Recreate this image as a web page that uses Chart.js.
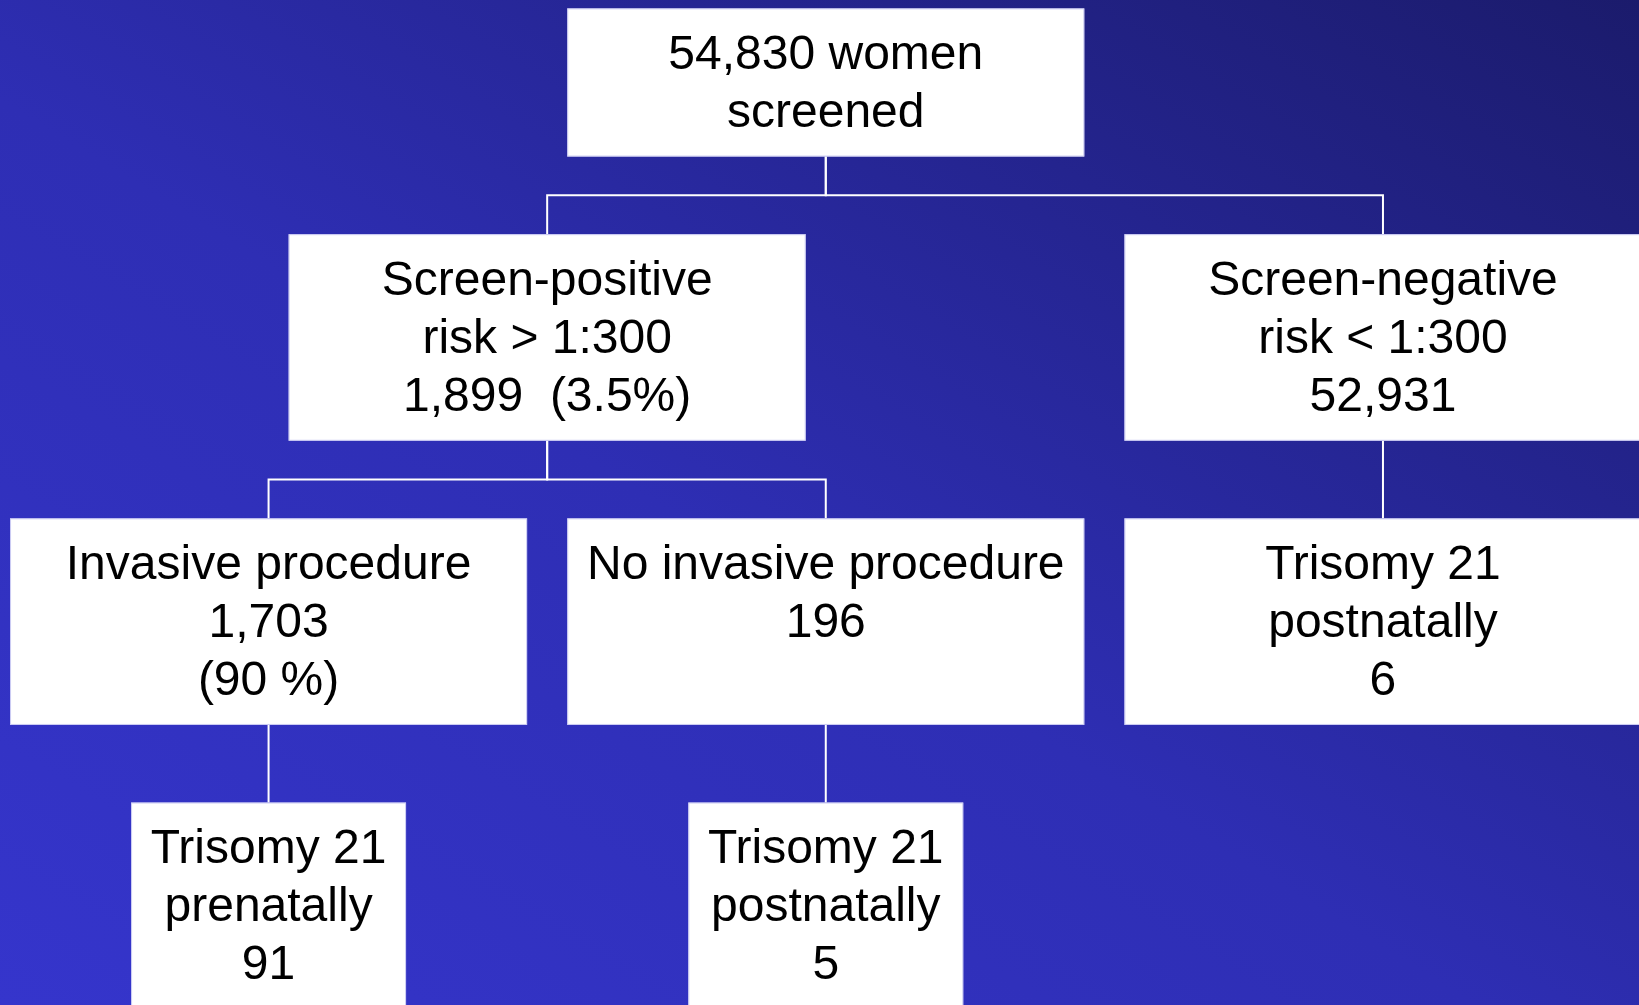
<!DOCTYPE html>
<html>
<head>
<meta charset="utf-8">
<script src="https://cdn.jsdelivr.net/npm/chart.js@4.4.1/dist/chart.umd.min.js"></script>
<style>
  html, body { margin: 0; padding: 0; overflow: hidden; }
  #wrap {
    width: 1639px; height: 1005px; position: relative;
    background: linear-gradient(to top right, #3535cc 0%, #2e2eb4 45%, #1b1b6c 100%);
  }
</style>
</head>
<body>
<div id="wrap"><canvas id="flowChart"></canvas></div>
<script>
// node texts (one entry per box, one string per line)
const nodeLines = [
    ['54,830 women', 'screened'],
    ['Screen-positive', 'risk > 1:300', '1,899  (3.5%)'],
    ['Screen-negative', 'risk < 1:300', '52,931'],
    ['Invasive procedure', '1,703', '(90 %)'],
    ['No invasive procedure', '196', ''],
    ['Trisomy 21', 'postnatally', '6'],
    ['Trisomy 21', 'prenatally', '91'],
    ['Trisomy 21', 'postnatally', '5'],
];
// tree structure: index of parent box
const parentOf = [-1, 0, 0, 1, 1, 2, 3, 4];

// layout: column and level of each box
const nodeCol = [2, 1, 4, 0, 2, 4, 0, 2];
const nodeLevel = [0, 1, 1, 2, 2, 2, 3, 3];

const HALF_H = 0.3635;
const ROOT_TOP = -0.158;
function halfWidth(i) { return nodeLevel[i] === 3 ? 0.4935 : 0.928; }
function topOf(i) { return i === 0 ? ROOT_TOP : nodeLevel[i] - HALF_H; }
function bottomOf(i) { return nodeLevel[i] + HALF_H; }

// connectors as line datasets
const connectorSets = [];
for (let i = 0; i < parentOf.length; i++) {
    const p = parentOf[i];
    if (p < 0) continue;
    const mid = nodeLevel[p] + 0.5;
    connectorSets.push({
        type: 'line',
        data: [
            { x: nodeCol[p], y: bottomOf(p) },
            { x: nodeCol[p], y: mid },
            { x: nodeCol[i], y: mid },
            { x: nodeCol[i], y: topOf(i) },
        ],
        borderColor: '#ffffff',
        borderWidth: 2,
        pointRadius: 0,
        fill: false,
        tension: 0,
    });
}

const boxPlugin = {
    id: 'boxes',
    afterDatasetsDraw(chart) {
        const ctx = chart.ctx;
        const xs = chart.scales.x, ys = chart.scales.y;
        ctx.save();
        for (let i = 0; i < nodeLines.length; i++) {
            const x0 = xs.getPixelForValue(nodeCol[i] - halfWidth(i));
            const x1 = xs.getPixelForValue(nodeCol[i] + halfWidth(i));
            const y0 = ys.getPixelForValue(topOf(i));
            const y1 = ys.getPixelForValue(bottomOf(i));
            ctx.fillStyle = '#ffffff';
            ctx.fillRect(x0, y0, x1 - x0, y1 - y0);
            ctx.strokeStyle = 'rgba(190,190,240,0.8)';
            ctx.lineWidth = 1;
            ctx.strokeRect(x0 + 0.5, y0 + 0.5, x1 - x0 - 1, y1 - y0 - 1);

            const lines = nodeLines[i];
            const cx = (x0 + x1) / 2, cy = (y0 + y1) / 2;
            const lh = 58;
            ctx.fillStyle = '#000000';
            ctx.font = '48px "Liberation Sans", Arial, sans-serif';
            ctx.textAlign = 'center';
            ctx.textBaseline = 'middle';
            lines.forEach(function(t, k) {
                ctx.fillText(t, cx, cy + (k - (lines.length - 1) / 2) * lh + 2);
            });
        }
        ctx.restore();
    }
};

const ctx = document.getElementById('flowChart').getContext('2d');
const config = {
    type: 'scatter',
    data: {
        datasets: [{
            label: 'boxes',
            data: nodeCol.map(function(c, i) { return { x: c, y: nodeLevel[i] }; }),
            pointRadius: 0,
        }].concat(connectorSets),
    },
    options: {
        responsive: true,
        maintainAspectRatio: false,
        animation: false,
        layout: { padding: 0 },
        plugins: { legend: { display: false }, tooltip: { enabled: false } },
        scales: {
            x: { type: 'linear', display: false, min: -0.964, max: 4.919 },
            y: { type: 'linear', display: false, reverse: true, min: -0.1875, max: 3.349 },
        },
    },
    plugins: [boxPlugin],
};
const flowChart = new Chart(ctx, config);
</script>
</body>
</html>
